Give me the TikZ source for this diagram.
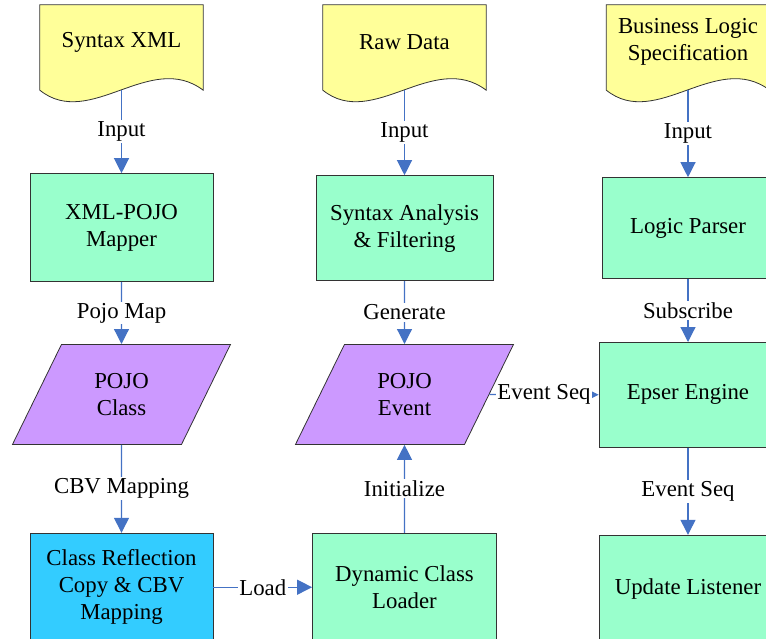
\documentclass[tikz,border=0pt]{standalone}
\usepackage{fontspec}
\setmainfont{Liberation Serif}
\usetikzlibrary{positioning, shapes.geometric, arrows.meta, backgrounds}

\definecolor{docyellow}{HTML}{FFFF99}
\definecolor{procgreen}{HTML}{99FFCC}
\definecolor{iopurple}{HTML}{CC99FF}
\definecolor{reflectblue}{HTML}{33CCFF}
\definecolor{flowblue}{HTML}{4472C4}
\definecolor{edgegrey}{HTML}{333333}

\tikzset{
  every node/.style={font=\fontsize{22.8}{27}\selectfont},
  docnode/.style={minimum width=163pt, minimum height=74pt, align=center, inner sep=0pt},
  docline/.style={fill=docyellow, draw=edgegrey, line width=0.8pt},
  procbox/.style={rectangle, draw=edgegrey, fill=procgreen, line width=0.8pt,
    minimum width=180pt, minimum height=105pt, align=center},
  iobox/.style={trapezium, trapezium left angle=63, trapezium right angle=117,
    trapezium stretches, draw=edgegrey, fill=iopurple, line width=0.8pt,
    minimum width=218pt, minimum height=100pt, align=center},
  flow/.style={color=flowblue, line width=1.2pt, -{Triangle[length=15pt,width=15pt]}},
  lbl/.style={fill=white, text=black, inner sep=1.5pt},
}

% wavy document outline behind a docnode
\newcommand{\docwave}[1]{%
  \begin{pgfonlayer}{background}
    \draw[docline] (#1.north west) -- (#1.north east) -- ([yshift=-11pt]#1.south east)
      .. controls ([xshift=-53pt,yshift=29pt]#1.south east) and ([xshift=50pt,yshift=-51pt]#1.south west)
      .. ([yshift=-11pt]#1.south west) -- cycle;
  \end{pgfonlayer}}

\begin{document}
\begin{tikzpicture}[x=1pt, y=1pt]
  \useasboundingbox (0,0) rectangle (766,-638);
  \clip (0,0) rectangle (766,-638);

  % syntax column
  \node[docnode] (syntaxdoc) at (121.5,-42) {Syntax XML};
  \node[procbox, minimum width=183pt, minimum height=108pt, below=94pt of syntaxdoc] (mapper) {XML-POJO\\Mapper};
  \node[iobox, below=62pt of mapper] (pojoclass) {POJO\\Class};
  \node[procbox, fill=reflectblue, minimum width=183pt, minimum height=108pt, below=88pt of pojoclass] (reflect) {Class Reflection\\Copy \& CBV\\Mapping};

  % data column
  \node[docnode] (rawdoc) at (404.5,-42) {Raw Data};
  \node[procbox, minimum width=177pt, below=96pt of rawdoc] (syntax) {Syntax Analysis\\\& Filtering};
  \node[iobox, below=63pt of syntax] (pojoevent) {POJO\\Event};
  \node[procbox, minimum width=184pt, minimum height=108pt, below=88pt of pojoevent] (loader) {Dynamic Class\\Loader};

  % logic column
  \node[docnode] (bizdoc) at (688,-42) {Business Logic\\Specification};
  \node[procbox, minimum width=172pt, minimum height=101pt, below=98pt of bizdoc] (parser) {Logic Parser};
  \node[procbox, minimum width=178pt, below=63pt of parser] (epser) {Epser Engine};
  \node[procbox, minimum width=178pt, minimum height=108pt, below=87pt of epser] (listener) {Update Listener};

  \docwave{syntaxdoc}
  \docwave{rawdoc}
  \docwave{bizdoc}
  \coordinate (syntaxtail) at ([yshift=-11pt]syntaxdoc.south);
  \coordinate (rawtail) at ([yshift=-11pt]rawdoc.south);
  \coordinate (biztail) at ([yshift=-11pt]bizdoc.south);

  \path[flow] (syntaxtail) edge node[lbl] {Input} (mapper)
    (mapper) edge node[lbl] {Pojo Map} (pojoclass)
    (pojoclass) edge node[lbl] {CBV Mapping} (reflect)
    (reflect) edge node[lbl] {Load} (loader)
    (rawtail) edge node[lbl] {Input} (syntax)
    (syntax) edge node[lbl] {Generate} (pojoevent)
    (loader) edge node[lbl] {Initialize} (pojoevent)
    (pojoevent) edge node[lbl] {Event Seq} (epser)
    (biztail) edge node[lbl] {Input} (parser)
    (parser) edge node[lbl] {Subscribe} (epser)
    (epser) edge node[lbl] {Event Seq} (listener);
\end{tikzpicture}
\end{document}
